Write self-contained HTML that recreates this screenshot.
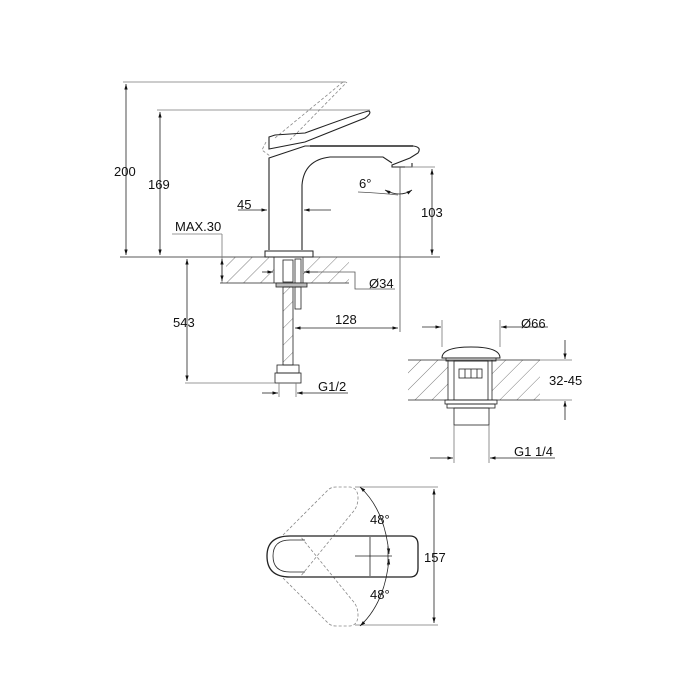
<!DOCTYPE html>
<html><head><style>html,body{margin:0;padding:0;background:#fff}svg{display:block}text{font-family:"Liberation Sans",sans-serif;font-size:13px;fill:#111}</style></head>
<body>
<svg width="700" height="700" viewBox="0 0 700 700" xmlns="http://www.w3.org/2000/svg">
<defs>
<pattern id="h" patternUnits="userSpaceOnUse" width="12" height="12" patternTransform="rotate(45)">
<line x1="0" y1="0" x2="0" y2="12" stroke="#444" stroke-width="0.7"/></pattern>
<marker id="a" viewBox="0 0 10 10" refX="10" refY="5" markerWidth="7" markerHeight="7" orient="auto-start-reverse"><path d="M0,2 L10,5 L0,8 z" fill="#111"/></marker>
</defs>
<g fill="none" stroke="#222" stroke-width="0.8">
<line x1="123" y1="82" x2="345" y2="82" stroke="#777"/>
<line x1="126" y1="84" x2="126" y2="255" marker-start="url(#a)" marker-end="url(#a)"/>
<line x1="157" y1="110" x2="370" y2="110" stroke="#777"/>
<line x1="160" y1="112" x2="160" y2="255" marker-start="url(#a)" marker-end="url(#a)"/>
<line x1="120" y1="257" x2="440" y2="257"/>
<path d="M266,142 L262,150 L270,156 M275,138 L343,82 M290,140 L347,82 M343,82 L347,82" stroke="#888" stroke-dasharray="3,2"/>
<path d="M269,250 L269,158 L305,146 L413,146 Q422,147 418,153 L410,158 L392,165 L392,167 L412,167 L412,163" stroke-width="1.1"/>
<path d="M269,137 L269,149 L305,142 L365,118 Q372,113 369,111 Q365,111 305,133 L275,135 Z" stroke-width="1.1"/>
<path d="M302,250 L302,185 Q304,160 330,157 L383,157 L392,163" stroke-width="1.1"/>
<path d="M310,146 L413,146" stroke-width="1.4"/>
<rect x="265" y="251" width="48" height="6" stroke-width="1"/>
<line x1="400" y1="167" x2="400" y2="332" stroke="#555"/>
<line x1="405" y1="167" x2="435" y2="167" stroke="#777"/>
<line x1="432" y1="169" x2="432" y2="255" marker-start="url(#a)" marker-end="url(#a)"/>
<path d="M358,192 Q380,193 398,195" stroke="#555"/>
<path d="M385,190 Q400,198 412,190" marker-start="url(#a)" marker-end="url(#a)"/>
<line x1="238" y1="210" x2="267" y2="210" marker-end="url(#a)"/>
<line x1="331" y1="210" x2="304" y2="210" marker-end="url(#a)"/>
<line x1="172" y1="234" x2="222" y2="234" stroke="#777"/>
<line x1="222" y1="234" x2="222" y2="283" stroke="#777"/>
<line x1="222" y1="259" x2="222" y2="281" marker-start="url(#a)" marker-end="url(#a)"/>
<rect x="226" y="257" width="48" height="26" fill="url(#h)" stroke="none"/>
<rect x="303" y="257" width="46" height="26" fill="url(#h)" stroke="none"/>
<line x1="220" y1="283" x2="349" y2="283"/>
<line x1="274" y1="257" x2="274" y2="283"/><line x1="303" y1="257" x2="303" y2="283"/>
<path d="M262,272 L273,272" marker-end="url(#a)"/>
<path d="M318,272 L304,272" marker-end="url(#a)"/>
<path d="M318,272 L355,272 L355,289 L395,289" stroke="#555"/>
<rect x="283" y="260" width="10" height="22"/>
<rect x="295" y="259" width="6" height="24"/>
<rect x="276" y="283" width="31" height="4" fill="#bbb"/>
<rect x="283" y="287" width="10" height="78" fill="url(#h)"/>
<rect x="295" y="287" width="6" height="22"/>
<rect x="277" y="365" width="22" height="8"/>
<rect x="275" y="373" width="26" height="10"/>
<line x1="187" y1="259" x2="187" y2="381" marker-start="url(#a)" marker-end="url(#a)"/>
<line x1="185" y1="383" x2="275" y2="383" stroke="#777"/>
<line x1="295" y1="328" x2="398" y2="328" marker-start="url(#a)" marker-end="url(#a)"/>
<line x1="279" y1="383" x2="279" y2="397" stroke="#777"/><line x1="296" y1="383" x2="296" y2="397" stroke="#777"/>
<line x1="262" y1="393" x2="278" y2="393" marker-end="url(#a)"/>
<line x1="348" y1="393" x2="297" y2="393" marker-end="url(#a)"/>
<rect x="408" y="360" width="40" height="40" fill="url(#h)" stroke="none"/>
<rect x="492" y="360" width="48" height="40" fill="url(#h)" stroke="none"/>
<line x1="408" y1="360" x2="540" y2="360"/><line x1="408" y1="400" x2="540" y2="400"/>
<line x1="448" y1="360" x2="448" y2="400"/><line x1="492" y1="360" x2="492" y2="400"/>
<path d="M442,358 Q442,347 471,347 Q500,347 500,358 Z" stroke-width="1"/>
<rect x="446" y="358" width="50" height="3"/>
<rect x="454" y="361" width="34" height="39"/>
<rect x="459" y="369" width="23" height="9"/>
<line x1="465" y1="369" x2="465" y2="378"/><line x1="471" y1="369" x2="471" y2="378"/><line x1="477" y1="369" x2="477" y2="378"/>
<rect x="445" y="400" width="52" height="4"/><rect x="447" y="404" width="48" height="4"/>
<rect x="454" y="408" width="35" height="17"/>
<line x1="442" y1="320" x2="442" y2="347" stroke="#777"/><line x1="500" y1="320" x2="500" y2="347" stroke="#777"/>
<line x1="422" y1="327" x2="441" y2="327" marker-end="url(#a)"/>
<line x1="548" y1="327" x2="501" y2="327" marker-end="url(#a)"/>
<line x1="540" y1="360" x2="572" y2="360" stroke="#777"/><line x1="540" y1="400" x2="572" y2="400" stroke="#777"/>
<line x1="565" y1="340" x2="565" y2="359" marker-end="url(#a)"/>
<line x1="565" y1="420" x2="565" y2="401" marker-end="url(#a)"/>
<line x1="454" y1="425" x2="454" y2="463" stroke="#777"/><line x1="489" y1="425" x2="489" y2="463" stroke="#777"/>
<line x1="430" y1="458" x2="453" y2="458" marker-end="url(#a)"/>
<line x1="555" y1="458" x2="490" y2="458" marker-end="url(#a)"/>
<!-- top view -->
<path d="M283,535 L328,490 Q331,487 336,487 L350,487 Q358,488 358,498 Q358,507 352,513 L300,577" stroke="#888" stroke-dasharray="3,2"/>
<path d="M283,578 L328,623 Q331,626 336,626 L350,626 Q358,625 358,615 Q358,606 352,600 L300,536" stroke="#888" stroke-dasharray="3,2"/>
<path d="M290,536 L410,536 Q418,536 418,545 L418,568 Q418,577 410,577 L290,577 Q267,577 267,556 Q267,536 290,536 Z" stroke-width="1.3"/>
<path d="M305,540 L290,540 Q273,540 273,556 Q273,572 290,572 L305,572"/>
<line x1="370" y1="537" x2="370" y2="576"/>
<line x1="355" y1="487" x2="438" y2="487" stroke="#777"/>
<line x1="355" y1="625" x2="438" y2="625" stroke="#777"/>
<line x1="434" y1="489" x2="434" y2="623" marker-start="url(#a)" marker-end="url(#a)"/>
<path d="M360,487 Q385,510 389,554" marker-start="url(#a)" marker-end="url(#a)"/>
<path d="M360,626 Q385,603 389,559" marker-start="url(#a)" marker-end="url(#a)"/>
<line x1="355" y1="556" x2="392" y2="556"/>
<line x1="388" y1="546" x2="388" y2="566"/>
</g>
<text x="114" y="176">200</text>
<text x="148" y="189">169</text>
<text x="237" y="209">45</text>
<text x="359" y="188">6°</text>
<text x="421" y="217">103</text>
<text x="175" y="231">MAX.30</text>
<text x="369" y="288">Ø34</text>
<text x="173" y="327">543</text>
<text x="335" y="324">128</text>
<text x="318" y="391">G1/2</text>
<text x="521" y="328">Ø66</text>
<text x="549" y="385">32-45</text>
<text x="514" y="456">G1 1/4</text>
<text x="370" y="524">48°</text>
<text x="370" y="599">48°</text>
<text x="424" y="562">157</text>
</svg>
</body></html>
